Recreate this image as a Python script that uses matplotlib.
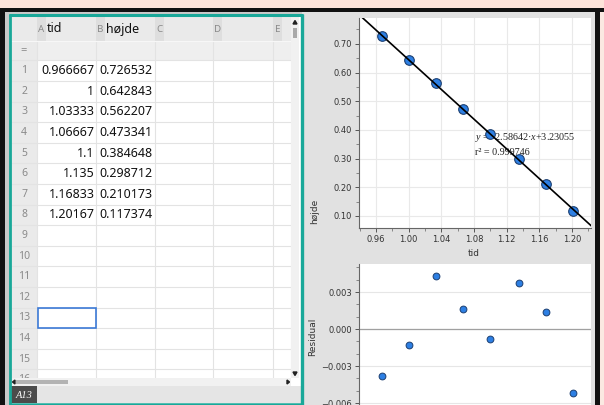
import matplotlib
matplotlib.use('Agg')
import matplotlib.pyplot as plt
from matplotlib.patches import Rectangle, Polygon
from matplotlib.ticker import MultipleLocator

plt.rcParams['mathtext.fontset'] = 'custom'
plt.rcParams['mathtext.it'] = 'Liberation Serif:italic'
plt.rcParams['mathtext.rm'] = 'Liberation Serif'

# spreadsheet columns
tid = [0.966667, 1, 1.03333, 1.06667, 1.1, 1.135, 1.16833, 1.20167]
hojde = [0.726532, 0.642843, 0.562207, 0.473341, 0.384648, 0.298712, 0.210173, 0.117374]
col_names = ['tid', 'højde', '', '', '']
col_letters = ['A', 'B', 'C', 'D', 'E']

# linear fit shown on the graph page
slope = -2.58642
intercept = 3.23055
r2 = 0.999746
residual = [-0.003812, -0.001287, 0.004282, 0.001648, -0.000840, 0.003749, 0.001409, -0.005153]

W, H = 604, 405
TEAL = '#19a899'
GRAYPANEL = '#e1e1e1'
CELLFONT = 'Noto Sans'

fig = plt.figure(figsize=(W / 100, H / 100), dpi=100)
bg = fig.add_axes([0, 0, 1, 1])
bg.set_xlim(0, W)
bg.set_ylim(H, 0)
bg.axis('off')


def rect(x0, y0, x1, y1, color, z=1, **kw):
    bg.add_patch(Rectangle((x0, y0), x1 - x0, y1 - y0, facecolor=color,
                           edgecolor='none', zorder=z, **kw))


def px_axes(x0, y0, x1, y1):
    return fig.add_axes([x0 / W, 1 - y1 / H, (x1 - x0) / W, (y1 - y0) / H])


# frame and window edges
rect(0, 0, W, H, '#c9c9c9', z=0)
rect(0, 0, W, 8, '#fde4da', z=0.5)
rect(600, 8, W, H, '#fbe9e2', z=0.5)
rect(0, 8, W, 12, '#111111', z=0.6)
rect(0, 8, 5, H, '#111111', z=0.6)
rect(595, 8, 600, H, '#111111', z=0.6)
rect(302, 12, 595, H, GRAYPANEL, z=0.7)

# spreadsheet body
col_x = [37, 96, 155, 213, 273, 291]
row_h = 20.6
row0 = 60.4
rect(10, 14, 302, H, 'white', z=1)
rect(11, 16, 291, 41, '#eaeaea', z=1.1)
rect(11, 41, 291, 60.4, '#efefef', z=1.1)
rect(11, 16, 37, 378, '#eaeaea', z=1.1)
for i in range(5):
    rect(col_x[i], 16, col_x[i] + 9, 41, '#dedede', z=1.2)
    bg.text(col_x[i] + 4.5, 29, col_letters[i], fontsize=7, color='#8a8a8a',
            ha='center', va='center', family=CELLFONT, zorder=3)
    if col_names[i]:
        bg.text(col_x[i] + 10, 29, col_names[i], fontsize=9, color='#111111',
                ha='left', va='center', family=CELLFONT, fontweight='medium', zorder=3)
for k in range(17):
    y = row0 + k * row_h
    bg.plot([11, 291], [y, y], color='#e3e3e3', lw=0.8, zorder=1.5)
for x in col_x:
    bg.plot([x, x], [41, 378], color='#e3e3e3', lw=0.8, zorder=1.5)
bg.plot([11, 291], [41, 41], color='#f7f7f7', lw=0.8, zorder=1.5)

bg.text(24, 50.5, '=', fontsize=8, color='#8a8a8a', ha='center', va='center',
        family=CELLFONT, zorder=3)
for i in range(16):
    yc = row0 + row_h / 2 + i * row_h
    bg.text(24, yc, str(i + 1), fontsize=7.5, color='#8a8a8a', ha='center',
            va='center', family=CELLFONT, zorder=3)

for i in range(len(tid)):
    yc = row0 + row_h / 2 + i * row_h
    bg.text(94.5, yc, f'{tid[i]:.6g}', fontsize=9, color='#111111', ha='right',
            va='center', family=CELLFONT, zorder=3)
    bg.text(153, yc, f'{hojde[i]:.6g}', fontsize=9, color='#111111', ha='right',
            va='center', family=CELLFONT, zorder=3)

# selected cell A13
sel_y = row0 + 12 * row_h
bg.add_patch(Rectangle((37.5, sel_y), 58, row_h, facecolor='none',
                       edgecolor='#3c7ad6', lw=1.2, zorder=4))

# scroll bars
rect(291, 16, 299, 378, '#f1f1f1', z=5)
bg.add_patch(Polygon([[293, 24], [297, 24], [295, 20.5]], color='#222222', zorder=6))
rect(293.2, 28, 296.8, 38, '#a9a9a9', z=6)
bg.add_patch(Polygon([[293, 372], [297, 372], [295, 375.5]], color='#222222', zorder=6))
rect(11, 378, 291, 386, '#f1f1f1', z=5)
rect(16, 380, 68, 384, '#b3b3b3', z=6)
bg.add_patch(Polygon([[15, 380], [15, 384], [12.5, 382]], color='#222222', zorder=6))
bg.add_patch(Polygon([[287, 380], [287, 384], [289.5, 382]], color='#222222', zorder=6))
rect(291, 378, 299, 386, 'white', z=5)

# status bar
rect(11, 386, 301, 403, '#e5e5e5', z=5)
rect(11, 386, 37, 403, '#4b4b4b', z=6)
bg.text(24, 395, 'A13', fontsize=7.5, color='white', style='italic',
        family='Liberation Serif', ha='center', va='center', zorder=7)

# teal frame of the spreadsheet
bg.plot([9.5, 9.5], [13.5, H], color=TEAL, lw=2.0, zorder=8, solid_capstyle='butt')
bg.plot([8.5, 302.5], [14.5, 14.5], color=TEAL, lw=2.2, zorder=8, solid_capstyle='butt')
bg.plot([301.5, 301.5], [13.5, H], color=TEAL, lw=2.4, zorder=8, solid_capstyle='butt')
bg.plot([8.5, 302.5], [404.2, 404.2], color=TEAL, lw=1.8, zorder=8, solid_capstyle='butt')

# graph page labels
bg.text(474, 254, 'tid', fontsize=6.5, color='#333333', ha='center', va='center')
bg.text(315, 211, 'højde', fontsize=6.5, color='#333333', ha='center', va='center',
        rotation=90)
bg.text(313, 337, 'Residual', fontsize=6.5, color='#333333', ha='center',
        va='center', rotation=90)

XLIM = (0.939, 1.2234)


def style_axes(ax):
    for s in ('top', 'right'):
        ax.spines[s].set_visible(False)
    for s in ('left', 'bottom'):
        ax.spines[s].set_color('#666666')
        ax.spines[s].set_linewidth(0.8)
    ax.tick_params(which='major', direction='out', length=3, width=0.7,
                   color='#555555', labelsize=6, labelcolor='#333333', pad=2)
    ax.tick_params(which='minor', direction='out', length=2, width=0.6,
                   color='#777777')
    ax.set_facecolor('white')


# scatter with regression line
ax1 = px_axes(359, 18, 591, 228)
style_axes(ax1)
ax1.set_xlim(*XLIM)
ax1.set_ylim(0.058, 0.79)
ax1.set_xticks([0.96, 1.00, 1.04, 1.08, 1.12, 1.16, 1.20])
ax1.set_xticklabels(['0.96', '1.00', '1.04', '1.08', '1.12', '1.16', '1.20'])
ax1.xaxis.set_minor_locator(MultipleLocator(0.02))
ax1.set_yticks([0.10, 0.20, 0.30, 0.40, 0.50, 0.60, 0.70])
ax1.set_yticklabels(['0.10', '0.20', '0.30', '0.40', '0.50', '0.60', '0.70'])
ax1.yaxis.set_minor_locator(MultipleLocator(0.05))
ax1.grid(True, which='major', color='#e9e9e9', lw=0.8)
ax1.set_axisbelow(True)
ax1.scatter(tid, hojde, s=48, c='#2d7fe3', edgecolors='#1d3f70', linewidths=0.8,
            zorder=4)
ax1.plot(XLIM, [slope * XLIM[0] + intercept, slope * XLIM[1] + intercept],
         color='black', lw=1.2, zorder=5)
ax1.text(1.0812, 0.366, r'$y$ = ' + f'{slope}·' + r'$x$' + f'+{intercept}',
         fontsize=7.3, family='Liberation Serif', color='#222222', zorder=3)
ax1.text(1.0812, 0.313, f'r² = {r2}', fontsize=7.3, family='Liberation Serif',
         color='#222222', zorder=3)

# residual plot
ax2 = px_axes(359, 264, 591, 405)
style_axes(ax2)
ax2.spines['bottom'].set_visible(False)
ax2.set_xlim(*XLIM)
ax2.set_ylim(-0.00616, 0.00527)
ax2.set_xticks([])
ax2.set_yticks([-0.006, -0.003, 0.0, 0.003])
ax2.set_yticklabels(['\u22120.006', '\u22120.003', '0.000', '0.003'])
ax2.yaxis.set_minor_locator(MultipleLocator(0.001))
ax2.grid(True, axis='y', which='major', color='#e6e6e6', lw=0.8)
ax2.axhline(0, color='#a0a0a0', lw=0.9, zorder=2)
ax2.set_axisbelow(True)
ax2.scatter(tid, residual, s=24, c='#2d7fe3', edgecolors='#1d3f70',
            linewidths=0.7, zorder=4)

fig.savefig('out.png', dpi=100)
